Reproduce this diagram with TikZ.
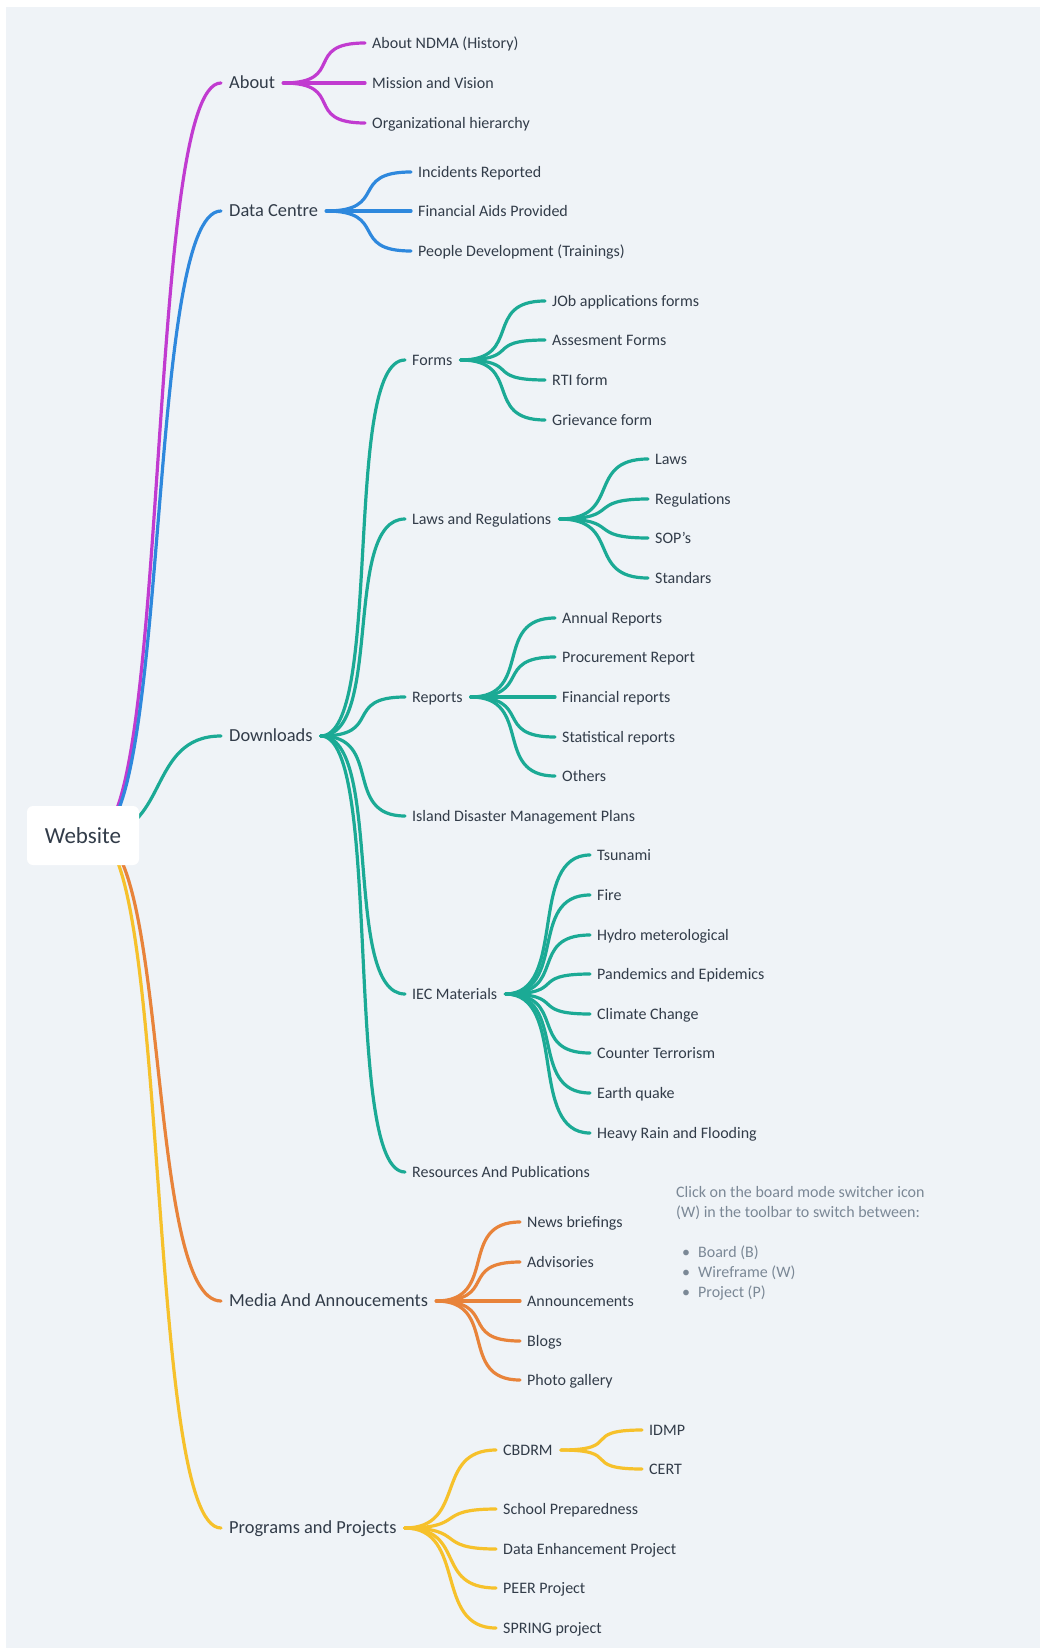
\documentclass[tikz,border=0pt]{standalone}
\usepackage{fontspec}
\setmainfont{Carlito}
\usetikzlibrary{calc}
\definecolor{panel}{RGB}{239,243,247}
\definecolor{ink}{RGB}{50,60,73}
\definecolor{notegray}{RGB}{123,136,150}
\definecolor{cmag}{RGB}{193,59,208}
\definecolor{cblue}{RGB}{46,136,221}
\definecolor{cteal}{RGB}{27,170,149}
\definecolor{corange}{RGB}{232,131,58}
\definecolor{cyellow}{RGB}{246,193,43}
\pgfdeclarelayer{back}
\pgfdeclarelayer{edges}
\pgfsetlayers{back,edges,main}
\tikzset{
  rootbox/.style={fill=white, rounded corners=6pt, minimum width=112pt, minimum height=59pt, inner sep=0pt, font=\fontsize{23}{27}\selectfont, text=ink},
  lvlone/.style={anchor=west, inner sep=0pt, text height=11.8pt, text depth=0pt, font=\fontsize{18.4}{22}\selectfont, text=ink},
  leaf/.style={anchor=west, inner sep=0pt, text height=10.3pt, text depth=0pt, font=\fontsize{16}{19}\selectfont, text=ink},
  link/.style={line width=3.2pt, line cap=round, out=0, in=180, out distance=63pt, in distance=63pt},
  rootlink/.style={line width=3.2pt, line cap=round, out=0, in=180, out distance=75pt, in distance=75pt},
  notetext/.style={anchor=west, inner sep=0pt, text height=10.3pt, text depth=0pt, font=\fontsize{16}{20}\selectfont, text=notegray}
}
\begin{document}
\begin{tikzpicture}[x=1pt,y=-1pt]
\useasboundingbox (0,0) rectangle (1040,1648);
\begin{pgfonlayer}{back}
  \fill[panel] (6,7) rectangle (1040,1648);
\end{pgfonlayer}

% root
\node[rootbox] (web) at (83,835.5) {Website};

% level one
\node[lvlone] (about) at (229,83) {About};
\node[lvlone] (datac) at (229,211) {Data Centre};
\node[lvlone] (dl) at (229,736) {Downloads};
\node[lvlone] (media) at (229,1301) {Media And Annoucements};
\node[lvlone] (prog) at (229,1528) {Programs and Projects};

% About
\node[leaf] (ab1) at (372,43) {About NDMA (History)};
\node[leaf] (ab2) at (372,83) {Mission and Vision};
\node[leaf] (ab3) at (372,123) {Organizational hierarchy};

% Data Centre
\node[leaf] (dc1) at (418,172) {Incidents Reported};
\node[leaf] (dc2) at (418,211) {Financial Aids Provided};
\node[leaf] (dc3) at (418,251) {People Development (Trainings)};

% Downloads
\node[leaf] (forms) at (412,360) {Forms};
\node[leaf] (laws) at (412,519) {Laws and Regulations};
\node[leaf] (reports) at (412,697) {Reports};
\node[leaf] (island) at (412,816) {Island Disaster Management Plans};
\node[leaf] (iec) at (412,994) {IEC Materials};
\node[leaf] (res) at (412,1172) {Resources And Publications};

% Forms
\node[leaf] (f1) at (552,301) {JOb applications forms};
\node[leaf] (f2) at (552,340) {Assesment Forms};
\node[leaf] (f3) at (552,380) {RTI form};
\node[leaf] (f4) at (552,420) {Grievance form};

% Laws
\node[leaf] (l1) at (655,459) {Laws};
\node[leaf] (l2) at (655,499) {Regulations};
\node[leaf] (l3) at (655,538) {SOP’s};
\node[leaf] (l4) at (655,578) {Standars};

% Reports
\node[leaf] (r1) at (562,618) {Annual Reports};
\node[leaf] (r2) at (562,657) {Procurement Report};
\node[leaf] (r3) at (562,697) {Financial reports};
\node[leaf] (r4) at (562,737) {Statistical reports};
\node[leaf] (r5) at (562,776) {Others};

% IEC
\node[leaf] (i1) at (597,855) {Tsunami};
\node[leaf] (i2) at (597,895) {Fire};
\node[leaf] (i3) at (597,935) {Hydro meterological};
\node[leaf] (i4) at (597,974) {Pandemics and Epidemics};
\node[leaf] (i5) at (597,1014) {Climate Change};
\node[leaf] (i6) at (597,1053) {Counter Terrorism};
\node[leaf] (i7) at (597,1093) {Earth quake};
\node[leaf] (i8) at (597,1133) {Heavy Rain and Flooding};

% Media
\node[leaf] (m1) at (527,1222) {News briefings};
\node[leaf] (m2) at (527,1262) {Advisories};
\node[leaf] (m3) at (527,1301) {Announcements};
\node[leaf] (m4) at (527,1341) {Blogs};
\node[leaf] (m5) at (527,1380) {Photo gallery};

% Programs
\node[leaf] (cbdrm) at (503,1450) {CBDRM};
\node[leaf] (p2) at (503,1509) {School Preparedness};
\node[leaf] (p3) at (503,1549) {Data Enhancement Project};
\node[leaf] (p4) at (503,1588) {PEER Project};
\node[leaf] (p5) at (503,1628) {SPRING project};

% CBDRM
\node[leaf] (c1) at (649,1430) {IDMP};
\node[leaf] (c2) at (649,1469) {CERT};

% note
\node[notetext] (n1) at (676,1192) {Click on the board mode switcher icon};
\node[notetext] (n2) at (676,1212) {(W) in the toolbar to switch between:};
\node[notetext] (n3) at (682,1252) {•\hspace*{8pt}Board (B)};
\node[notetext] (n4) at (682,1272) {•\hspace*{8pt}Wireframe (W)};
\node[notetext] (n5) at (682,1292) {•\hspace*{8pt}Project (P)};

\begin{pgfonlayer}{edges}
  % root edges
  \draw[rootlink,cmag] ([xshift=12pt]web.center) to ([xshift=-8pt]about.west);
  \draw[rootlink,cblue] ([xshift=12pt]web.center) to ([xshift=-8pt]datac.west);
  \draw[rootlink,cteal] ([xshift=12pt]web.center) to ([xshift=-8pt]dl.west);
  \draw[rootlink,corange] ([xshift=12pt]web.center) to ([xshift=-8pt]media.west);
  \draw[rootlink,cyellow] ([xshift=12pt]web.center) to ([xshift=-8pt]prog.west);

  \foreach \c in {ab1,ab2,ab3}
    \draw[link,cmag] ([xshift=8pt]about.east) to ([xshift=-7pt]\c.west);
  \foreach \c in {dc1,dc2,dc3}
    \draw[link,cblue] ([xshift=8pt]datac.east) to ([xshift=-7pt]\c.west);
  \foreach \c in {forms,laws,reports,island,iec,res}
    \draw[link,cteal] ([xshift=8pt]dl.east) to ([xshift=-7pt]\c.west);
  \foreach \c in {f1,f2,f3,f4}
    \draw[link,cteal] ([xshift=8pt]forms.east) to ([xshift=-7pt]\c.west);
  \foreach \c in {l1,l2,l3,l4}
    \draw[link,cteal] ([xshift=8pt]laws.east) to ([xshift=-7pt]\c.west);
  \foreach \c in {r1,r2,r3,r4,r5}
    \draw[link,cteal] ([xshift=8pt]reports.east) to ([xshift=-7pt]\c.west);
  \foreach \c in {i1,i2,i3,i4,i5,i6,i7,i8}
    \draw[link,cteal] ([xshift=8pt]iec.east) to ([xshift=-7pt]\c.west);
  \foreach \c in {m1,m2,m3,m4,m5}
    \draw[link,corange] ([xshift=8pt]media.east) to ([xshift=-7pt]\c.west);
  \foreach \c in {cbdrm,p2,p3,p4,p5}
    \draw[link,cyellow] ([xshift=8pt]prog.east) to ([xshift=-7pt]\c.west);
  \foreach \c in {c1,c2}
    \draw[link,cyellow] ([xshift=8pt]cbdrm.east) to ([xshift=-7pt]\c.west);
\end{pgfonlayer}
\end{tikzpicture}
\end{document}
